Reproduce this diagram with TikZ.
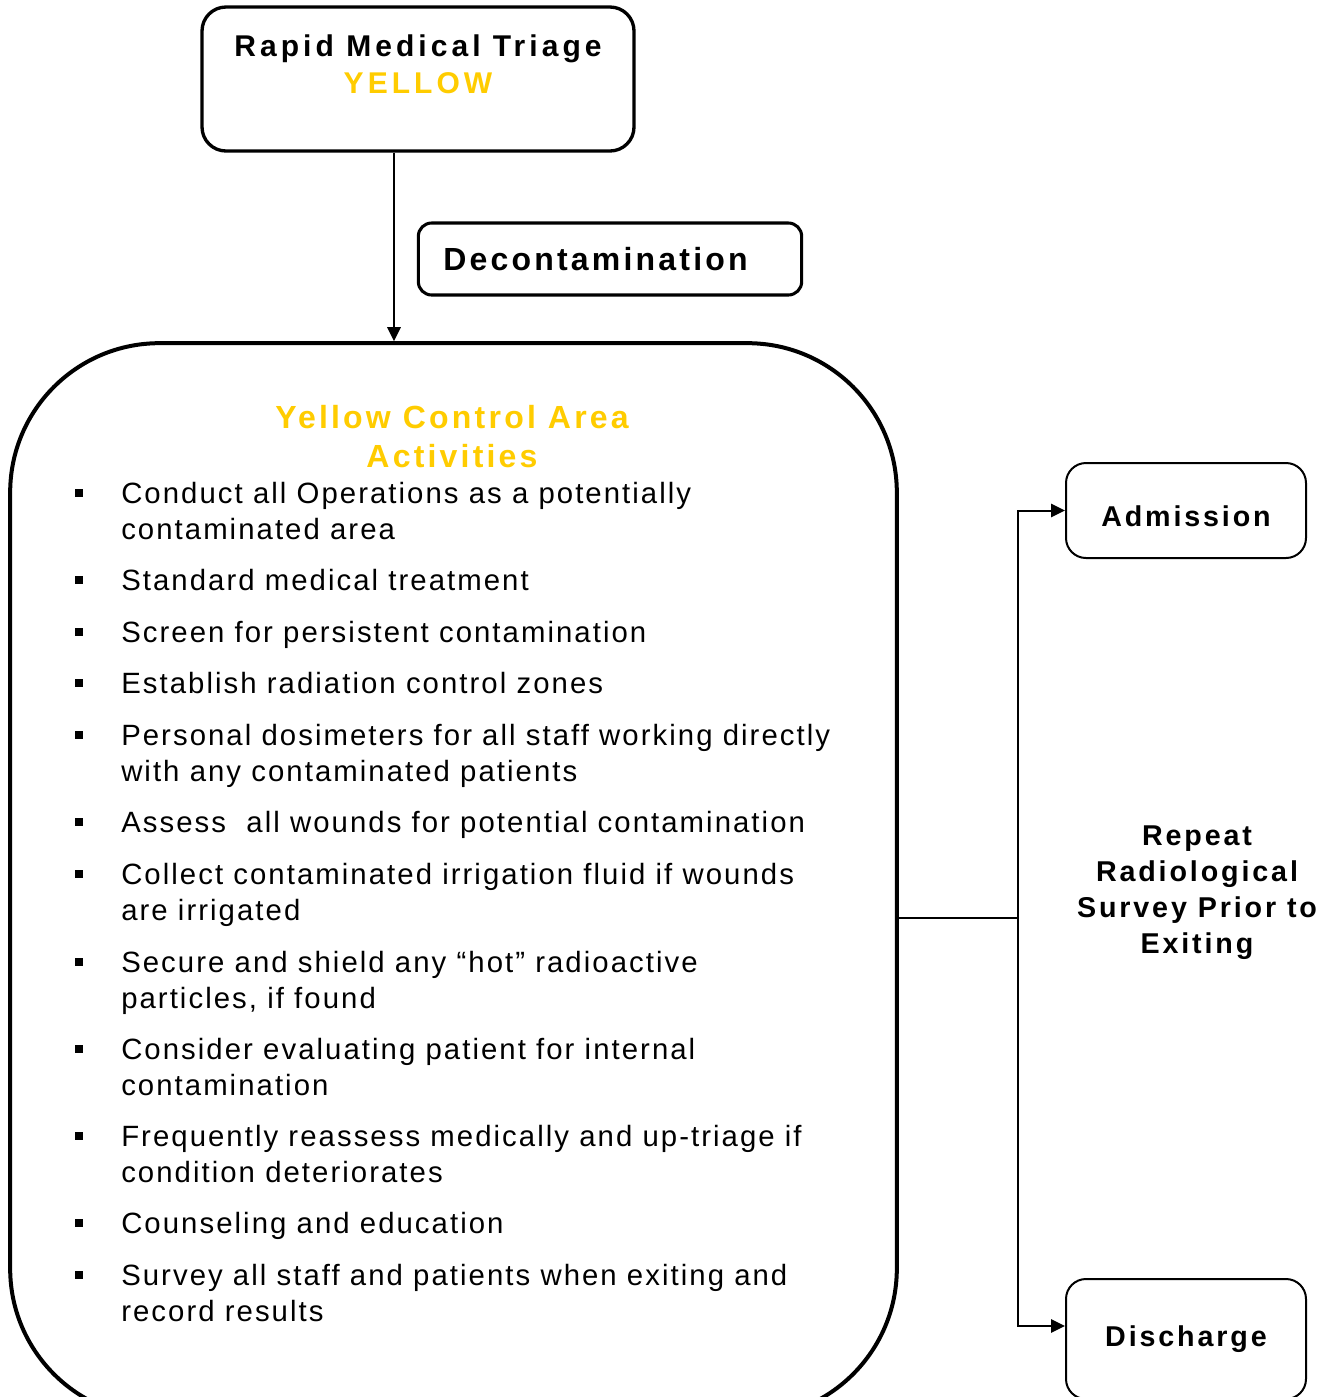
\documentclass[tikz,border=0pt]{standalone}
\usepackage{fontspec}
\setmainfont{Liberation Sans}
\newfontfamily\listfont{Liberation Sans}[LetterSpace=7]
\newfontfamily\headfont{Liberation Sans}[LetterSpace=10]
\newfontfamily\wideheadfont{Liberation Sans}[LetterSpace=13.5]
\usetikzlibrary{arrows.meta}
\definecolor{tyellow}{HTML}{FFCC00}

\begin{document}
\begin{tikzpicture}[x=0.75pt,y=-0.75pt]
\tikzset{
box node/.style={draw,line width=2.5pt,rounded corners=18pt},
head text/.style={align=center,inner sep=0,font=\headfont\bfseries\fontsize{22.5}{27.75}\selectfont},
exit node/.style={draw,line width=1.5pt,rounded corners=15pt,minimum width=180pt,font=\headfont\bfseries\fontsize{21.5}{27}\selectfont},
item node/.style={anchor=base west,align=left,inner sep=0,font=\listfont\fontsize{22}{27}\selectfont},
bullet node/.style={fill,inner sep=0,minimum size=6pt},
arrow/.style={line width=1.5pt,-{Triangle[length=10.5pt,width=10pt]}}
}
\useasboundingbox (0,0) rectangle (1340,1397);

% top of the chart
\node(triage)[box node,minimum width=324pt,minimum height=108pt] at (418,79) {};
\node(triagetxt)[head text,font=\wideheadfont\bfseries\fontsize{22.5}{27.75}\selectfont] at (418,64) {Rapid Medical Triage\\\textcolor{tyellow}{YELLOW}};
\node(decon)[box node,rounded corners=10pt,line width=2.3pt,minimum height=54pt,text width=250pt,inner xsep=18.75pt,align=left,
  font=\headfont\bfseries\fontsize{24}{29}\selectfont] at (610,259) {Decontamination};

% control area
\node(area)[draw,line width=3pt,rounded corners=112pt,minimum width=665pt,minimum height=806pt] at (453.5,880.5) {};
\node(areatxt)[head text,text=tyellow,font=\headfont\bfseries\fontsize{24}{29.25}\selectfont] at (452,437) {Yellow Control Area\\Activities};

% first baseline / number of lines / text
\foreach \yb/\n/\txt [count=\k] in {
  503/2/{Conduct all Operations as a potentially\\contaminated area},
  590/1/{Standard medical treatment},
  642/1/{Screen for persistent contamination},
  693/1/{Establish radiation control zones},
  745/2/{Personal dosimeters for all staff working directly\\with any contaminated patients},
  832/1/{Assess\ \ all wounds for potential contamination},
  884/2/{Collect contaminated irrigation fluid if wounds\\are irrigated},
  972/2/{Secure and shield any “hot” radioactive\\particles, if found},
  1059/2/{Consider evaluating patient for internal\\contamination},
  1146/2/{Frequently reassess medically and up-triage if\\condition deteriorates},
  1233/1/{Counseling and education},
  1285/2/{Survey all staff and patients when exiting and\\record results}}{
  \node(dot\k)[bullet node] at (79,\yb-10.5) {};
  \node(item\k)[item node] at (121,\yb+36*\n-36) {\txt};
}

% exits
\node(adm)[exit node,minimum height=71.25pt,text height=24pt] at (1186,510.5) {Admission};
\node(disch)[exit node,minimum height=90pt] at (1186,1339) {Discharge};
\node(survey)[head text,font=\headfont\bfseries\fontsize{21.5}{27}\selectfont] at (1197,893) {Repeat\\Radiological\\Survey Prior to\\Exiting};

\coordinate(split) at (1018,918);
\draw[arrow] ([xshift=-18pt]triage.south) -- ([xshift=-18pt]triage.south |- area.north);
\draw[line width=1.5pt] (area.east |- split) -- (split);
\draw[arrow] (split) |- (adm.west);
\draw[arrow] (split) |- ([yshift=-36pt]disch.north west);
\end{tikzpicture}
\end{document}
